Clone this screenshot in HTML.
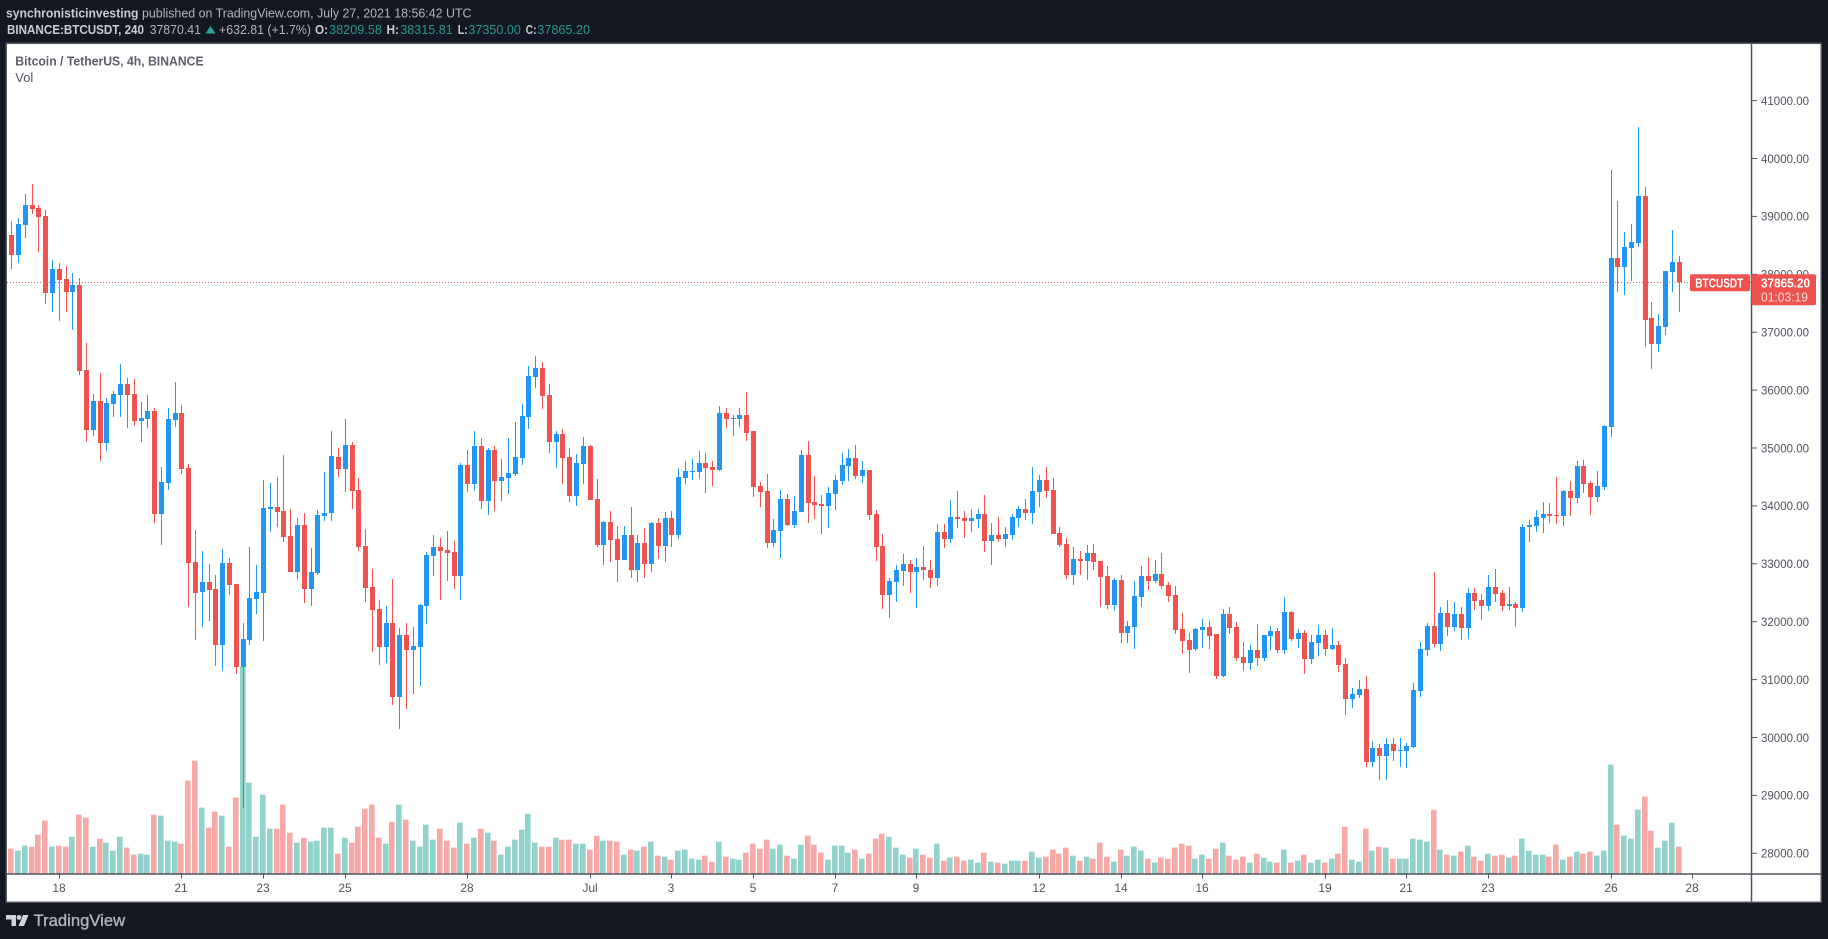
<!DOCTYPE html>
<html lang="en">
<head>
<meta charset="utf-8">
<title>BTCUSDT 4h chart</title>
<style>
html,body{margin:0;padding:0;background:#131722;width:1828px;height:939px;overflow:hidden}
svg{display:block;font-family:"Liberation Sans",sans-serif}
</style>
</head>
<body>
<svg id="chart" width="1828" height="939" viewBox="0 0 1828 939">
  <rect x="0" y="0" width="1828" height="939" fill="#131722"/>
  <g font-size="12.5">
    <text x="6" y="17.5" font-weight="700" fill="#c9ccd4" textLength="132.5" lengthAdjust="spacingAndGlyphs">synchronisticinvesting</text>
    <text x="142" y="17.5" fill="#b2b5be" textLength="329.5" lengthAdjust="spacingAndGlyphs">published on TradingView.com, July 27, 2021 18:56:42 UTC</text>
    <text x="7" y="34" font-weight="700" fill="#c9ccd4" textLength="137" lengthAdjust="spacingAndGlyphs">BINANCE:BTCUSDT, 240</text>
    <text x="149.6" y="34" fill="#b2b5be" textLength="51.4" lengthAdjust="spacingAndGlyphs">37870.41</text>
    <path d="M205.5 33.5 L210.5 26 L215.5 33.5 Z" fill="#26a69a"/>
    <text x="219" y="34" fill="#b2b5be" textLength="92" lengthAdjust="spacingAndGlyphs">+632.81 (+1.7%)</text>
    <text x="315" y="34" font-weight="700" fill="#c9ccd4" textLength="13" lengthAdjust="spacingAndGlyphs">O:</text>
    <text x="329" y="34" fill="#26998d" textLength="53" lengthAdjust="spacingAndGlyphs">38209.58</text>
    <text x="386.5" y="34" font-weight="700" fill="#c9ccd4" textLength="12.5" lengthAdjust="spacingAndGlyphs">H:</text>
    <text x="400.3" y="34" fill="#26998d" textLength="52.4" lengthAdjust="spacingAndGlyphs">38315.81</text>
    <text x="457.7" y="34" font-weight="700" fill="#c9ccd4" textLength="10" lengthAdjust="spacingAndGlyphs">L:</text>
    <text x="468.4" y="34" fill="#26998d" textLength="52.5" lengthAdjust="spacingAndGlyphs">37350.00</text>
    <text x="525.8" y="34" font-weight="700" fill="#c9ccd4" textLength="10.7" lengthAdjust="spacingAndGlyphs">C:</text>
    <text x="537.3" y="34" fill="#26998d" textLength="52.7" lengthAdjust="spacingAndGlyphs">37865.20</text>
  </g>
  <rect x="6.25" y="43.25" width="1815" height="859" fill="#ffffff" stroke="#50535e" stroke-width="1.5"/>
  <g id="volume-layer"></g>
  <line id="last-price-line" x1="7" x2="1751" stroke="#ef5350" stroke-width="1" stroke-dasharray="1 2"/>
  <g id="candle-layer"></g>
  <g id="price-axis"></g>
  <g id="time-axis"></g>
  <line x1="7" x2="1821" y1="874" y2="874" stroke="#50535e" stroke-width="1.5"/>
  <line x1="1751.5" x2="1751.5" y1="44" y2="902" stroke="#50535e" stroke-width="1.5"/>
  <text x="15.3" y="65.5" font-size="12.5" font-weight="700" fill="#5d606b" textLength="188.3" lengthAdjust="spacingAndGlyphs">Bitcoin / TetherUS, 4h, BINANCE</text>
  <text x="15.3" y="82" font-size="12.5" fill="#50535e" textLength="18" lengthAdjust="spacingAndGlyphs">Vol</text>
  <g id="price-labels">
    <rect x="1690" y="-8.5" width="60" height="17" rx="2" fill="#ef5350"/>
    <text x="1695.3" y="4.6" font-size="12.5" font-weight="700" fill="#ffffff" textLength="48" lengthAdjust="spacingAndGlyphs">BTCUSDT</text>
    <rect x="1751.5" y="-8.5" width="64.5" height="31" rx="2" fill="#ef5350"/>
    <text x="1761" y="4.6" font-size="12.5" font-weight="700" fill="#ffffff" textLength="49" lengthAdjust="spacingAndGlyphs">37865.20</text>
    <text x="1761" y="18.8" font-size="12.5" fill="#fbdcdc" textLength="47" lengthAdjust="spacingAndGlyphs">01:03:19</text>
  </g>
  <g>
    <path d="M6 915 H16 V926 H11.5 V919.5 H6 Z" fill="#d1d4dc"/>
    <circle cx="19" cy="917.4" r="2.4" fill="#d1d4dc"/>
    <path d="M23 915 H28.5 L24 926 H18.5 Z" fill="#d1d4dc"/>
    <text x="33.6" y="926" font-size="17" fill="#b2b5be" stroke="#b2b5be" stroke-width="0.35" textLength="91.5" lengthAdjust="spacingAndGlyphs">TradingView</text>
  </g>
</svg>
<script>
const opens=[
38677,38332,38850,39196,39144,39006,37676,38090,37917,37693,
37814,36346,35310,35810,35085,35759,35914,36104,35931,35465,
35500,35639,33860,34395,35483,35604,34654,33031,32513,32686,
32565,31598,33014,32651,31218,31684,32392,32496,33946,33981,
33912,33480,32858,33670,32565,32841,33825,33877,34844,34637,
35052,34275,33307,32599,32219,31563,31977,30699,31770,31511,
31563,32271,33135,33290,33238,33204,32789,34706,34378,35034,
34084,34965,34430,34482,34551,34827,35535,36226,36381,35915,
35103,35241,34844,34171,34723,35034,34119,33324,33722,33428,
33065,33497,32893,33359,32996,33704,33307,33791,33497,34482,
34585,34585,34741,34672,34620,35604,35500,35500,35570,35293,
34343,34257,33359,33566,34119,33670,33894,34879,34067,34032,
33998,34205,34430,34689,34827,34516,34620,33860,33307,32461,
32685,32875,32996,32858,32944,32892,32754,33549,33428,33808,
33791,33739,33773,33860,33393,33497,33428,33497,33791,33946,
33877,34240,34447,34274,33532,33341,32806,33082,33048,33186,
33048,32789,32288,32720,31804,31908,32426,32789,32703,32823,
32633,32461,31873,31683,31528,31856,31908,31787,31062,32133,
31908,31390,31286,31511,31373,31753,31839,31511,32167,31701,
31804,31355,31631,31770,31528,31597,31269,30664,30733,30837,
29576,29818,29680,29887,29766,29766,29835,30802,31510,31925,
31614,32149,31908,32132,31890,32495,32374,32270,32599,32495,
32270,32305,32236,33629,33652,33791,33860,33842,33825,34257,
34136,34689,34395,34153,34326,35362,38281,38125,38454,38540,
39352,37245,36796,37089,38039,38210];
const highs=[
38919,38971,39385,39558,39196,39109,38246,38194,38142,38021,
37935,36812,35931,36294,35862,35983,36449,36208,36190,35793,
35914,35691,34672,35691,36140,35742,34723,33584,33221,32996,
32806,33255,33100,32651,31977,33290,32979,34447,34395,34499,
34879,33946,33791,33877,33273,33929,34585,35293,35000,35501,
35103,34482,33601,32910,32375,32271,32737,31891,31977,31908,
32306,33204,33497,33445,33566,33393,34741,34965,35293,35172,
34999,35034,34810,35172,35449,35760,36416,36589,36485,36105,
35293,35328,34999,34896,35190,35052,34464,33739,33912,33653,
33653,33981,33497,33618,33722,33791,33894,33912,34654,34775,
34810,34948,34913,34775,35725,35691,35570,35690,35967,35293,
34412,34551,33773,34274,34205,34171,34965,35120,34516,34188,
34326,34533,34913,34982,35051,34775,34620,33929,33514,32754,
32979,33169,33065,33100,33307,33065,33687,33687,34101,34257,
33911,33946,33946,34188,33704,33808,33635,33860,33998,34119,
34671,34533,34671,34481,33635,33445,33290,33221,33324,33341,
33048,32962,32754,32806,32012,32703,32962,33117,33065,33186,
32685,32616,32150,31804,31891,32046,32012,31787,32219,32253,
31994,31649,31597,31960,31770,31925,31891,32426,32184,31873,
31856,31770,31942,31856,31890,31666,31372,30854,30992,31061,
29939,29887,29991,29991,29991,29904,30941,31649,31977,32858,
32253,32374,32339,32253,32581,32581,32478,32806,32909,32547,
32599,32339,33687,33756,33929,34067,34050,34499,34274,34430,
34775,34792,34430,34602,35397,39801,39265,38730,38868,40543,
39507,37521,37314,38056,38764,38316];
const lows=[
38090,38194,38626,39040,38384,37486,37348,37192,37348,37037,
36259,35102,35206,34774,34947,35534,35534,35344,35379,35102,
35344,33704,33325,34274,35363,34551,32254,31684,31908,32012,
31235,31148,32461,31097,28782,31598,32133,31667,33549,33635,
33376,32858,32737,32323,32271,32806,33739,33739,34499,34240,
33946,33221,32340,31477,31252,31287,30561,30141,30492,30751,
30889,31960,32789,32375,32703,32565,32375,34240,34257,33946,
33843,33912,34084,34205,34516,34706,35328,36036,35673,34913,
34654,34378,34067,33998,34378,34102,33290,32979,33031,32685,
33065,32755,32685,32755,32858,33083,33031,33290,33428,34378,
34447,34464,34223,34343,34603,35345,35207,35362,35120,34153,
33981,33272,33290,33100,33652,33618,33894,33704,33773,33514,
33618,33929,34361,34430,34464,34395,33756,33048,32219,32064,
32340,32616,32495,32236,32720,32582,32616,33272,33359,33618,
33445,33549,33618,33203,32979,33376,33290,33411,33635,33756,
33687,33981,34136,33514,33290,32737,32633,32806,32720,32892,
32253,32219,32184,31632,31632,31528,32253,32547,32668,32564,
32340,31787,31442,31114,31493,31545,31528,31010,31044,31787,
31321,31148,31165,31234,31321,31511,31459,31442,31666,31545,
31096,31269,31407,31407,31510,31131,30388,30509,30681,29490,
29490,29265,29265,29593,29490,29472,29818,30699,31407,31562,
31493,31752,31839,31683,31700,32201,32029,32184,32339,32184,
32201,31908,32167,33381,33549,33532,33704,33687,33652,33825,
34050,34222,33842,34067,34274,35190,37694,37642,37884,38471,
36744,36364,36657,36951,37694,37350];
const closes=[
38332,38867,39196,39126,38988,37676,38090,37900,37693,37814,
36329,35310,35810,35085,35776,35931,36104,35914,35465,35517,
35638,33860,34413,35501,35604,34637,33014,32496,32686,32547,
31598,33014,32634,31218,31701,32409,32513,33964,33981,33895,
33463,32858,33670,32565,32858,33843,33877,34862,34637,35052,
34257,33290,32582,32202,31563,31977,30699,31770,31511,31580,
32288,33152,33290,33221,33186,32789,34706,34378,35034,34084,
34965,34430,34499,34568,34844,35552,36243,36381,35898,35103,
35241,34827,34171,34741,35034,34102,33324,33722,33411,33065,
33497,32893,33359,32996,33704,33307,33791,33497,34499,34603,
34603,34741,34654,34620,35604,35501,35518,35570,35259,34326,
34240,33359,33583,34119,33670,33911,34879,34050,34015,33998,
34222,34447,34706,34827,34516,34620,33842,33290,32461,32702,
32892,32996,32858,32944,32892,32754,33549,33428,33808,33773,
33739,33791,33860,33393,33497,33428,33514,33808,33946,33877,
34257,34447,34257,33514,33324,32806,33082,33048,33186,33031,
32772,32288,32720,31804,31925,32443,32789,32703,32823,32616,
32443,31856,31666,31511,31873,31908,31753,31062,32133,31891,
31373,31286,31511,31373,31770,31839,31511,32167,31701,31804,
31355,31649,31770,31528,31597,31251,30664,30751,30837,29576,
29818,29680,29887,29766,29783,29852,30820,31528,31925,31614,
32149,31908,32132,31890,32495,32357,32270,32599,32478,32270,
32305,32236,33635,33670,33808,33860,33825,33825,34257,34136,
34689,34378,34153,34343,35380,38281,38125,38471,38557,39352,
37210,36796,37106,38056,38212,37865];
const volumes=[
76,70,85,82,118,160,82,85,82,112,
178,169,82,106,94,70,112,79,58,61,
58,178,175,100,97,91,280,340,199,139,
187,175,82,229,622,274,112,238,136,136,
208,124,94,109,97,100,139,139,61,109,
94,142,196,208,109,91,157,208,163,100,
82,148,103,136,100,79,154,91,109,136,
124,100,58,82,103,133,181,94,82,82,
109,103,103,91,91,73,115,100,100,97,
58,73,70,82,97,55,52,43,70,73,
46,43,55,37,97,52,46,43,64,91,
76,103,76,88,55,46,88,115,88,64,
43,85,85,64,73,46,61,106,121,112,
79,58,49,76,58,49,91,40,49,52,
40,43,34,64,37,34,31,40,40,40,
67,49,52,73,61,79,55,40,52,46,
94,52,37,73,55,82,70,46,34,49,
46,79,91,85,46,58,46,76,94,55,
43,52,34,61,49,37,34,73,34,40,
58,34,43,34,46,61,142,43,37,136,
70,82,79,46,46,46,106,103,97,193,
73,58,55,67,85,52,40,61,55,58,
49,55,106,70,58,58,52,88,43,52,
67,61,67,55,70,328,148,115,106,193,
232,130,79,100,154,82];
const priceTicks=[41000,40000,39000,38000,37000,36000,35000,34000,33000,32000,31000,30000,29000,28000];
const timeTickLabels=["18","21","23","25","28","Jul","3","5","7","9","12","14","16","19","21","23","26","28"];
const timeTickDays=[0,3,5,7,10,13,15,17,19,21,24,26,28,31,33,35,38,40];
const lastPrice=37865.2;

const NS="http://www.w3.org/2000/svg";
function xAxis(i){return 11.7+6.806*i;}
function dayToIndex(d){return 7+6*d;}
function yPrice(p){return 853.3-(p-28000)*0.0579;}
function yVolume(v){return 874-v/3;}
function shape(tag,parent){const e=document.createElementNS(NS,tag);parent.appendChild(e);return e;}
function place(e,x,y,w,h,fill){
  e.setAttribute("x",x);e.setAttribute("y",y);e.setAttribute("width",w);e.setAttribute("height",h);e.setAttribute("fill",fill);
}

const volumeLayer=document.getElementById("volume-layer");
const candleLayer=document.getElementById("candle-layer");
volumes.forEach(function(v,i){
  const px=Math.floor(xAxis(i));
  const up=closes[i]>=opens[i];
  const bar=shape("rect",volumeLayer);
  
  
  const top=yVolume(v);
  place(bar,px-3,top,5.6,873.5-top,up?"#92d2cc":"#f7a9a7");
});
opens.forEach(function(o,i){
  const px=Math.floor(xAxis(i));
  const c=closes[i];
  const color=c>=o?"#2196f3":"#ef5350";
  const group=shape("g",candleLayer);
  
  
  const wick=shape("rect",group);
  
  
  const wt=Math.round(yPrice(highs[i])),wb=Math.round(yPrice(lows[i]));
  place(wick,px,wt,1,Math.max(1,wb-wt),color);
  const body=shape("rect",group);
  
  
  const bt=Math.round(yPrice(Math.max(o,c))),bb=Math.round(yPrice(Math.min(o,c)));
  place(body,px-2,bt,5,Math.max(1,bb-bt),color);
});

const priceAxis=document.getElementById("price-axis");
priceTicks.forEach(function(p){
  const y=yPrice(p);
  const tick=shape("line",priceAxis);
  
  
  tick.setAttribute("x1",1752);tick.setAttribute("x2",1757);
  tick.setAttribute("y1",y);tick.setAttribute("y2",y);
  tick.setAttribute("stroke","#50535e");
  const label=shape("text",priceAxis);
  
  
  label.setAttribute("x",1761);label.setAttribute("y",y+4.3);
  label.setAttribute("font-size","12");label.setAttribute("fill","#50535e");
  label.setAttribute("textLength","48");label.setAttribute("lengthAdjust","spacingAndGlyphs");
  label.textContent=p.toFixed(2);
});

const timeAxis=document.getElementById("time-axis");
timeTickLabels.forEach(function(t,k){
  const x=Math.floor(xAxis(dayToIndex(timeTickDays[k])))+0.5;
  const tick=shape("line",timeAxis);
  
  
  tick.setAttribute("x1",x);tick.setAttribute("x2",x);
  tick.setAttribute("y1",874);tick.setAttribute("y2",878.5);
  tick.setAttribute("stroke","#50535e");
  const label=shape("text",timeAxis);
  
  
  label.setAttribute("x",x-0.5);label.setAttribute("y",892);
  label.setAttribute("font-size","12");label.setAttribute("fill","#50535e");
  label.setAttribute("text-anchor","middle");
  label.textContent=t;
});

const ly=yPrice(lastPrice);
const lastLine=document.getElementById("last-price-line");
lastLine.setAttribute("y1",Math.round(ly)+0.5);
lastLine.setAttribute("y2",Math.round(ly)+0.5);
document.getElementById("price-labels").setAttribute("transform","translate(0,"+(ly+0.6)+")");
</script>
</body>
</html>
